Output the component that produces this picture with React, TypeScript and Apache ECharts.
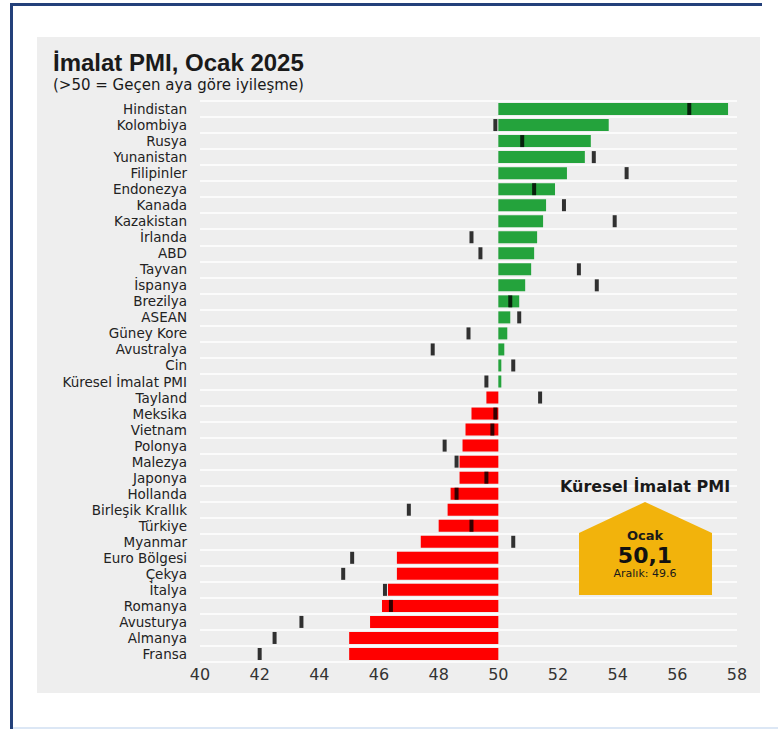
import React, { useEffect, useRef } from "react";
import * as echarts from "echarts";

const countries = [
  "Hindistan", "Kolombiya", "Rusya", "Yunanistan", "Filipinler", "Endonezya",
  "Kanada", "Kazakistan", "İrlanda", "ABD", "Tayvan", "İspanya", "Brezilya",
  "ASEAN", "Güney Kore", "Avustralya", "Cin", "Küresel İmalat PMI", "Tayland",
  "Meksika", "Vietnam", "Polonya", "Malezya", "Japonya", "Hollanda",
  "Birleşik Krallık", "Türkiye", "Myanmar", "Euro Bölgesi", "Çekya", "İtalya",
  "Romanya", "Avusturya", "Almanya", "Fransa",
];

// Ocak 2025 (bars)
const january = [
  57.7, 53.7, 53.1, 52.9, 52.3, 51.9, 51.6, 51.5, 51.3, 51.2, 51.1, 50.9, 50.7,
  50.4, 50.3, 50.2, 50.1, 50.1, 49.6, 49.1, 48.9, 48.8, 48.7, 48.7, 48.4, 48.3,
  48.0, 47.4, 46.6, 46.6, 46.3, 46.1, 45.7, 45.0, 45.0,
];

// Aralık 2024 (black markers)
const december = [
  56.4, 49.9, 50.8, 53.2, 54.3, 51.2, 52.2, 53.9, 49.1, 49.4, 52.7, 53.3, 50.4,
  50.7, 49.0, 47.8, 50.5, 49.6, 51.4, 49.9, 49.8, 48.2, 48.6, 49.6, 48.6, 47.0,
  49.1, 50.5, 45.1, 44.8, 46.2, 46.4, 43.4, 42.5, 42.0,
];

const xMin = 40;
const xMax = 58;
const xStep = 2;
const threshold = 50;

const title = "İmalat PMI, Ocak 2025";
const subtitle = "(>50 = Geçen aya göre iyileşme)";
const badgeTitle = "Küresel İmalat PMI";
const badgeMonth = "Ocak";
const badgeValue = "50,1";
const badgePrev = "Aralık: 49.6";

const FONT = "'DejaVu Sans', sans-serif";

export default function App() {
  const ref = useRef<HTMLDivElement>(null);

  useEffect(() => {
    if (!ref.current) return;
    const chart = echarts.init(ref.current, undefined, { renderer: "svg" });

    const base = january.map((v) => Math.min(v, threshold));
    const delta = january.map((v) => ({
      value: Math.abs(v - threshold),
      itemStyle: { color: v >= threshold ? "#24a33c" : "#ff0000" },
    }));
    const marks = december.map((v, i) => [v, countries[i]]);

    chart.setOption({
      animation: false,
      backgroundColor: "#ffffff",
      grid: {
        left: 200,
        right: 41,
        top: 101,
        bottom: 67,
        containLabel: false,
        outerBoundsMode: "none",
      },
      xAxis: {
        type: "value",
        min: xMin,
        max: xMax,
        interval: xStep,
        axisLine: { show: false },
        axisTick: { show: false },
        splitLine: { show: false },
        axisLabel: {
          color: "#333333",
          fontFamily: FONT,
          fontSize: 16,
          margin: 4,
        },
      },
      yAxis: {
        type: "category",
        data: countries,
        inverse: true,
        axisLine: { show: false },
        axisTick: { show: false },
        splitLine: {
          show: true,
          interval: 0,
          lineStyle: { color: "#ffffff", width: 1.5 },
        },
        axisLabel: {
          interval: 0,
          color: "#222222",
          fontFamily: FONT,
          fontSize: 13.5,
          margin: 13,
          lineHeight: 15,
        },
      },
      series: [
        {
          type: "bar",
          stack: "pmi",
          data: base,
          barWidth: 12,
          itemStyle: { color: "transparent" },
          silent: true,
        },
        {
          type: "bar",
          stack: "pmi",
          data: delta,
          barWidth: 12,
        },
        {
          type: "scatter",
          data: marks,
          symbol: "rect",
          symbolSize: [4, 12],
          itemStyle: { color: "#000000" },
          z: 5,
        },
      ],
      graphic: {
        elements: [
          {
            type: "rect",
            z: -10,
            shape: { x: 37, y: 37, width: 723, height: 656 },
            style: { fill: "#eeeeee" },
          },
          {
            type: "rect",
            z: 20,
            shape: { x: 10, y: 3, width: 752, height: 3 },
            style: { fill: "#23407a" },
          },
          {
            type: "rect",
            z: 20,
            shape: { x: 10, y: 3, width: 3, height: 726 },
            style: { fill: "#23407a" },
          },
          {
            type: "rect",
            z: 20,
            shape: { x: 13, y: 727, width: 765, height: 2 },
            style: { fill: "#dce7f5" },
          },
          {
            type: "text",
            z: 20,
            x: 53,
            y: 62,
            style: {
              text: title,
              font: "bold 24px 'Liberation Sans', Arial, sans-serif",
              fill: "#1a1a1a",
              verticalAlign: "middle",
              lineHeight: 26,
            },
          },
          {
            type: "text",
            z: 20,
            x: 53,
            y: 85,
            style: {
              text: subtitle,
              font: "15px " + FONT,
              fill: "#1a1a1a",
              verticalAlign: "middle",
              lineHeight: 17,
            },
          },
          {
            type: "text",
            z: 20,
            x: 645,
            y: 486,
            style: {
              text: badgeTitle,
              font: "bold 16px " + FONT,
              fill: "#1a1a1a",
              align: "center",
              verticalAlign: "middle",
            },
          },
          {
            type: "polygon",
            z: 20,
            shape: {
              points: [
                [645, 502],
                [712, 533],
                [712, 595],
                [579, 595],
                [579, 533],
              ],
            },
            style: { fill: "#f2b30c" },
          },
          {
            type: "text",
            z: 21,
            x: 645,
            y: 535,
            style: {
              text: badgeMonth,
              font: "bold 13px " + FONT,
              fill: "#1a1a1a",
              align: "center",
              verticalAlign: "middle",
            },
          },
          {
            type: "text",
            z: 21,
            x: 645,
            y: 555,
            style: {
              text: badgeValue,
              font: "bold 22px " + FONT,
              fill: "#111111",
              align: "center",
              verticalAlign: "middle",
            },
          },
          {
            type: "text",
            z: 21,
            x: 645,
            y: 573,
            style: {
              text: badgePrev,
              font: "11px " + FONT,
              fill: "#1a1a1a",
              align: "center",
              verticalAlign: "middle",
            },
          },
        ],
      },
    });

    return () => chart.dispose();
  }, []);

  return (
    <div
      ref={ref}
      style={{ position: "fixed", left: 0, top: 0, width: 778, height: 729 }}
    />
  );
}
